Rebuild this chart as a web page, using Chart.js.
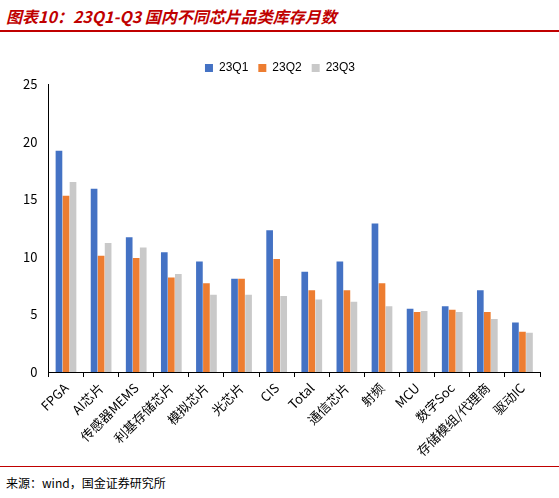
<!DOCTYPE html>
<html><head><meta charset="utf-8">
<script src="https://cdn.jsdelivr.net/npm/chart.js@4/dist/chart.umd.min.js"></script>
<style>
body{margin:0;background:#fff;width:559px;height:498px;position:relative;font-family:"Noto Sans CJK SC",sans-serif;overflow:hidden}
#title{position:absolute;left:6px;top:4px;font-size:16px;font-weight:bold;font-style:italic;color:#C00000}
#tline{position:absolute;left:0;top:30px;width:559px;height:2px;background:#C00000}
#bline{position:absolute;left:0;top:466px;width:559px;height:1px;background:#C00000}
#src{position:absolute;left:6px;top:474px;font-size:12px;color:#000}
#wrap{position:absolute;left:20px;top:52px;width:530px;height:410px}
</style></head><body>
<div id="title">图表10：23Q1-Q3 国内不同芯片品类库存月数</div>
<div id="tline"></div>
<div id="wrap"><canvas id="c" width="530" height="410"></canvas></div>
<div id="bline"></div>
<div id="src">来源：wind，国金证券研究所</div>
<script>
const categories=["FPGA","AI芯片","传感器MEMS","利基存储芯片","模拟芯片","光芯片","CIS","Total","通信芯片","射频","MCU","数字Soc","存储模组/代理商","驱动IC"];
const q1=[19.2,15.9,11.7,10.4,9.6,8.1,12.3,8.7,9.6,12.9,5.5,5.7,7.1,4.3];
const q2=[15.3,10.1,9.9,8.2,7.7,8.1,9.8,7.1,7.1,7.7,5.2,5.4,5.2,3.5];
const q3=[16.5,11.2,10.8,8.5,6.7,6.7,6.6,6.3,6.1,5.7,5.3,5.2,4.6,3.4];
const f={family:"Noto Sans CJK SC",size:13};
new Chart(document.getElementById('c'),{type:'bar',
data:{labels:categories,datasets:[
{label:'23Q1',data:q1,backgroundColor:'#4472C4'},
{label:'23Q2',data:q2,backgroundColor:'#ED7D31'},
{label:'23Q3',data:q3,backgroundColor:'#C9C9C9'}]},
options:{responsive:false,animation:false,
datasets:{bar:{categoryPercentage:0.6,barPercentage:0.95}},
layout:{padding:{right:10}},
plugins:{legend:{position:'top',labels:{boxWidth:8,boxHeight:8,font:{size:12},color:'#000'}},tooltip:{enabled:false}},
scales:{y:{min:0,max:25,ticks:{stepSize:5,font:f,color:'#000'},grid:{display:false},border:{color:'#000'}},
x:{ticks:{maxRotation:45,minRotation:45,font:f,color:'#000',autoSkip:false},grid:{display:true,drawOnChartArea:false,tickLength:5,color:'#000'},border:{color:'#000'}}}}});
</script></body></html>
